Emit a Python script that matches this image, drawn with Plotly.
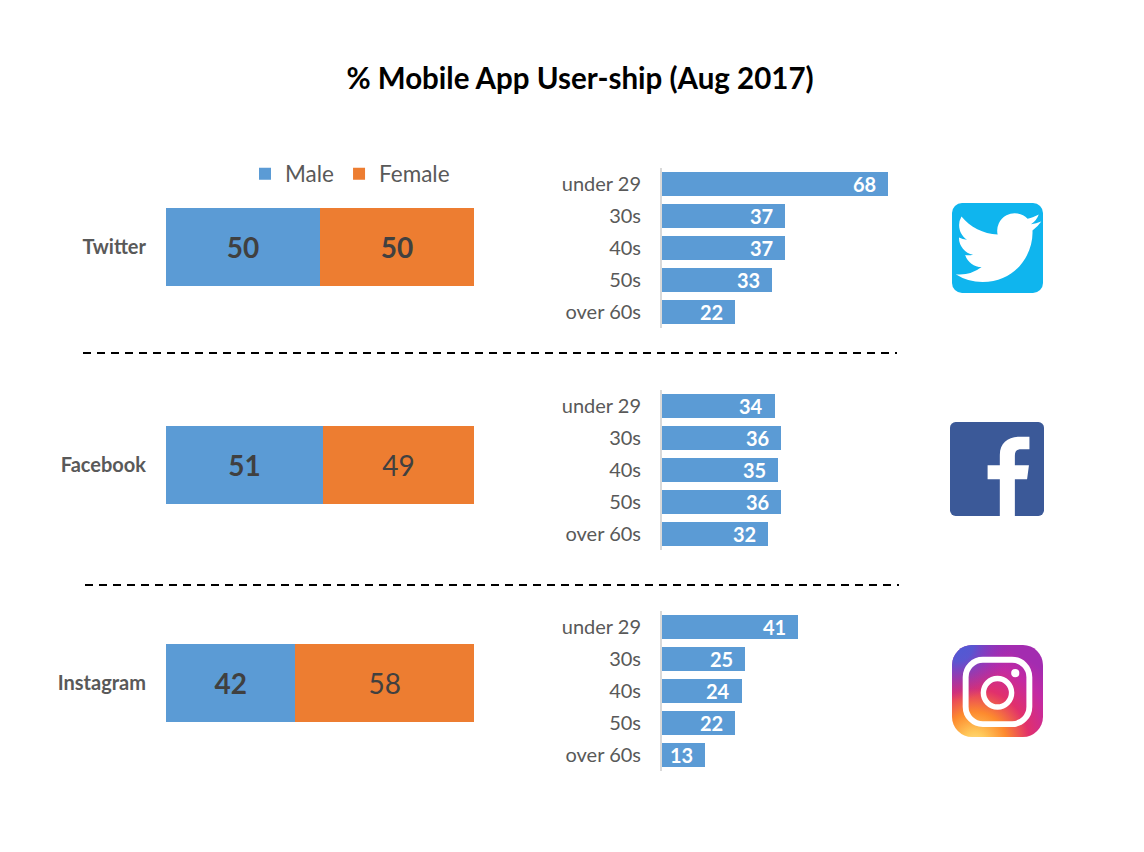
import base64
import plotly.graph_objects as go

W, H = 1144, 852
FONT = "Lato"
BLUE, ORANGE = "#5B9BD5", "#ED7D31"

platforms = ["Twitter", "Facebook", "Instagram"]
male = [50, 51, 42]
female = [50, 49, 58]
male_bold = [True, True, True]
female_bold = [True, False, False]
age_groups = ["under 29", "30s", "40s", "50s", "over 60s"]
twitter_ages = [68, 37, 37, 33, 22]
facebook_ages = [34, 36, 35, 36, 32]
instagram_ages = [41, 25, 24, 22, 13]
age_values = [twitter_ages, facebook_ages, instagram_ages]

left_tops = [208, 426, 644]
right_tops = [168, 390, 611]


def fx(p):
    return p / W


def fy(p):
    return 1 - p / H


def svg_uri(s):
    return "data:image/svg+xml;base64," + base64.b64encode(s.encode()).decode()


TWITTER_SVG = """<svg xmlns="http://www.w3.org/2000/svg" viewBox="0 0 100 100" preserveAspectRatio="none">
<rect width="100" height="100" rx="11" fill="#0FB5EE"/>
<g transform="translate(4,2.6) scale(3.92)"><path fill="#fff" d="M23.953 4.57a10 10 0 01-2.825.775 4.958 4.958 0 002.163-2.723c-.951.555-2.005.959-3.127 1.184a4.92 4.92 0 00-8.384 4.482C7.69 8.095 4.067 6.13 1.64 3.162a4.822 4.822 0 00-.666 2.475c0 1.71.87 3.213 2.188 4.096a4.904 4.904 0 01-2.228-.616v.06a4.923 4.923 0 003.946 4.827 4.996 4.996 0 01-2.212.085 4.936 4.936 0 004.604 3.417 9.867 9.867 0 01-6.102 2.105c-.39 0-.779-.023-1.17-.067a13.995 13.995 0 007.557 2.209c9.053 0 13.998-7.496 13.998-13.985 0-.21 0-.42-.015-.63A9.935 9.935 0 0024 4.59z"/></g>
</svg>"""

FACEBOOK_SVG = """<svg xmlns="http://www.w3.org/2000/svg" viewBox="0 0 100 100" preserveAspectRatio="none">
<rect width="100" height="100" rx="6" fill="#3B5998"/>
<path fill="#fff" d="M53 100V61H40V46H53V35C53 22 62 15.6 74 15.6H84.5V29H76C71 29 69 31 69 36V46H84L82 61H69V100Z"/>
</svg>"""

INSTAGRAM_SVG = """<svg xmlns="http://www.w3.org/2000/svg" viewBox="0 0 100 100" preserveAspectRatio="none">
<defs>
<radialGradient id="a" cx="25%" cy="108%" r="110%">
<stop offset="0" stop-color="#FFE08A"/><stop offset=".12" stop-color="#FFC95A"/>
<stop offset=".32" stop-color="#FD8A2E"/><stop offset=".55" stop-color="#E1306C"/>
<stop offset=".8" stop-color="#C32AA3"/><stop offset="1" stop-color="#A32CB0"/>
</radialGradient>
<radialGradient id="b" cx="5%" cy="0%" r="60%">
<stop offset="0" stop-color="#4F5BD5"/><stop offset=".3" stop-color="#4F5BD5" stop-opacity=".9"/>
<stop offset="1" stop-color="#8A2BC0" stop-opacity="0"/>
</radialGradient>
</defs>
<rect width="100" height="100" rx="22" fill="url(#a)"/>
<rect width="100" height="100" rx="22" fill="url(#b)"/>
<rect x="15" y="16" width="70" height="70" rx="19" fill="none" stroke="#fff" stroke-width="6.5"/>
<circle cx="50" cy="52" r="15.5" fill="none" stroke="#fff" stroke-width="6"/>
<circle cx="69.5" cy="30.5" r="4.5" fill="#fff"/>
</svg>"""

fig = go.Figure()
layout_axes = {}
annotations = []

for i, name in enumerate(platforms):
    n_left = 2 * i + 1
    n_right = 2 * i + 2
    top = left_tops[i]
    fig.add_trace(go.Bar(
        y=[name], x=[male[i]], name="Male", orientation="h", width=1,
        marker=dict(color=BLUE, line_width=0), legendgroup="Male", showlegend=i == 0,
        text=[f"<b>{male[i]}</b>" if male_bold[i] else str(male[i])],
        textposition="inside", insidetextanchor="middle", textangle=0,
        insidetextfont=dict(family=FONT, size=28, color="#404040"),
        xaxis=f"x{n_left}", yaxis=f"y{n_left}", hoverinfo="skip"))
    fig.add_trace(go.Bar(
        y=[name], x=[female[i]], name="Female", orientation="h", width=1,
        marker=dict(color=ORANGE, line_width=0), legendgroup="Female", showlegend=i == 0,
        text=[f"<b>{female[i]}</b>" if female_bold[i] else str(female[i])],
        textposition="inside", insidetextanchor="middle", textangle=0,
        insidetextfont=dict(family=FONT, size=28, color="#404040"),
        xaxis=f"x{n_left}", yaxis=f"y{n_left}", hoverinfo="skip"))
    layout_axes[f"xaxis{n_left}"] = dict(
        domain=[fx(166), fx(474)], range=[0, 100], visible=False,
        anchor=f"y{n_left}", fixedrange=True)
    layout_axes[f"yaxis{n_left}"] = dict(
        domain=[fy(top + 78), fy(top)], range=[-0.5, 0.5], anchor=f"x{n_left}",
        showline=False, showgrid=False, ticks="", ticklabelstandoff=19,
        tickfont=dict(family=FONT, size=20, color="#595959", weight="bold"),
        fixedrange=True)

    rt = right_tops[i]
    vals = age_values[i]
    fig.add_trace(go.Bar(
        y=age_groups, x=vals, orientation="h", width=0.75, showlegend=False,
        marker=dict(color=BLUE, line_width=0),
        xaxis=f"x{n_right}", yaxis=f"y{n_right}", hoverinfo="skip"))
    layout_axes[f"xaxis{n_right}"] = dict(
        domain=[fx(662), fx(895)], range=[0, 70.2], visible=False,
        anchor=f"y{n_right}", fixedrange=True)
    layout_axes[f"yaxis{n_right}"] = dict(
        domain=[fy(rt + 160), fy(rt)], range=[4.5, -0.5], anchor=f"x{n_right}",
        showline=True, linecolor="#D9D9D9", linewidth=2, showgrid=False, ticks="",
        ticklabelstandoff=15, tickfont=dict(family=FONT, size=20, color="#595959"),
        fixedrange=True)
    for g, v in zip(age_groups, vals):
        annotations.append(dict(
            x=v, y=g, xref=f"x{n_right}", yref=f"y{n_right}", text=f"<b>{v}</b>",
            showarrow=False, xanchor="right", yanchor="middle", xshift=-10,
            font=dict(family=FONT, size=20, color="#FFFFFF")))

shapes = [
    dict(type="line", xref="paper", yref="paper", x0=fx(83), x1=fx(897), y0=fy(353), y1=fy(353),
         line=dict(color="#000000", width=2, dash="8px,6px")),
    dict(type="line", xref="paper", yref="paper", x0=fx(85), x1=fx(899), y0=fy(585), y1=fy(585),
         line=dict(color="#000000", width=2, dash="8px,6px")),
]

images = []
for svg, (x0, y0, x1, y1) in [
    (TWITTER_SVG, (952, 203, 1043, 293)),
    (FACEBOOK_SVG, (950, 422, 1044, 516)),
    (INSTAGRAM_SVG, (952, 645, 1043, 737)),
]:
    images.append(dict(source=svg_uri(svg), xref="paper", yref="paper", x=fx(x0), y=fy(y0),
                       sizex=(x1 - x0) / W, sizey=(y1 - y0) / H, xanchor="left", yanchor="top",
                       sizing="stretch", layer="above"))

fig.update_layout(
    width=W, height=H, margin=dict(l=0, r=0, t=0, b=0),
    paper_bgcolor="white", plot_bgcolor="white", barmode="stack",
    font=dict(family=FONT),
    title=dict(text="<b>% Mobile App User-ship (Aug 2017)</b>", x=fx(580), y=fy(79),
               xanchor="center", yanchor="middle", xref="paper", yref="paper",
               font=dict(family=FONT, size=29.5, color="#000000")),
    legend=dict(orientation="h", x=fx(245), y=fy(174), xanchor="left", yanchor="middle",
                font=dict(family=FONT, size=22.5, color="#595959"), bgcolor="rgba(0,0,0,0)",
                itemclick=False, itemdoubleclick=False),
    shapes=shapes, images=images, annotations=annotations,
    **layout_axes,
)

fig.write_html("out.html", post_script="document.body.style.margin='0';", config=dict(displayModeBar=False))
